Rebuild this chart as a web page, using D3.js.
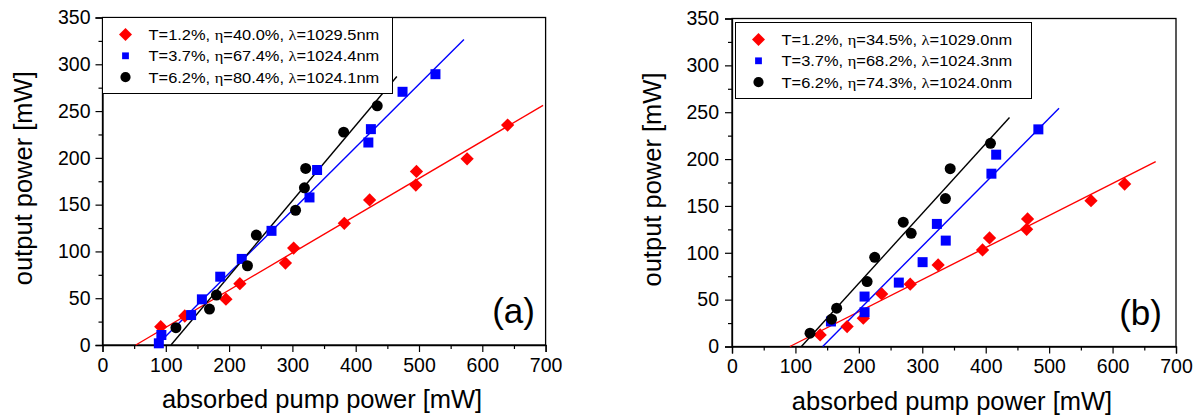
<!DOCTYPE html>
<html>
<head>
<meta charset="utf-8">
<script src="https://cdn.jsdelivr.net/npm/d3@7"></script>
<style>
  body { margin: 0; background: #fff; }
  svg { display: block; font-family: "Liberation Sans", Arial, sans-serif; }
</style>
</head>
<body>
<div id="chart"></div>
<script>
// tick values shared by both panels
var xTicks = [0, 100, 200, 300, 400, 500, 600, 700];
var yTicks = [0, 50, 100, 150, 200, 250, 300, 350];

// panel (a) measured points
var aRedX   = [92, 130, 195, 217, 289, 302, 382, 422, 495, 496, 576, 640];
var aRedY   = [19.6, 31, 49, 65.5, 87.6, 103.6, 130, 155, 171, 185.5, 199, 235];
var aBlueX  = [89, 93, 140, 157, 186, 220, 267, 327, 339, 420, 424, 474, 526];
var aBlueY  = [1.8, 10.7, 32, 48.8, 73, 92, 122, 157.7, 187, 216.4, 230.7, 270.6, 289.4];
var aBlackX = [116, 169, 180, 229, 243, 305, 319, 321, 381, 434];
var aBlackY = [18.5, 38.4, 53.4, 84.7, 117.5, 144, 168, 188.7, 227.5, 255.6];

// panel (b) measured points
var bRedX   = [139, 181.5, 207, 236, 281, 325, 395, 406, 464.5, 466, 566, 619];
var bRedY   = [12.4, 21.3, 30.2, 56.1, 66.5, 87.1, 103, 115.8, 125, 136.1, 155.6, 173.4];
var bBlueX  = [156, 209, 209, 263, 300.5, 323, 337, 409, 416.5, 483];
var bBlueY  = [26.7, 53.3, 36.6, 68.2, 90, 130.8, 113, 184.4, 204.7, 231.7];
var bBlackX = [123, 157, 165, 213, 225, 270, 282.5, 336.5, 344, 407.5];
var bBlackY = [14.2, 29.1, 40.9, 69.3, 95.2, 132.6, 120.8, 157.8, 189.8, 216.8];

// linear fits: threshold (x at y=0), slope, last x of drawn line  [red, blue, black]
var aFitThreshold = [52.6, 86, 108.2];
var aFitSlope     = [0.398, 0.673, 0.804];
var aFitEnd       = [696, 571, 465];
var bFitThreshold = [91.3, 143, 109.4];
var bFitSlope     = [0.342, 0.682, 0.745];
var bFitEnd       = [668, 515.6, 437.5];

// legend entries: T, eta, lambda
var legendT     = ["1.2%", "3.7%", "6.2%"];
var aLegendEta  = ["40.0%", "67.4%", "80.4%"];
var aLegendLam  = ["1029.5nm", "1024.4nm", "1024.1nm"];
var bLegendEta  = ["34.5%", "68.2%", "74.3%"];
var bLegendLam  = ["1029.0nm", "1024.3nm", "1024.0nm"];

var colors  = ["#ff0000", "#0000ff", "#000000"];
// diamond = square turned 45 degrees
var symbols = [d3.symbolSquare, d3.symbolSquare, d3.symbolCircle];
var symRot  = [45, 0, 0];
var symSize = [88, 100, 95];
var legSize = [84, 46, 82];

var W = 1199, H = 419;
var svg = d3.select("#chart").append("svg").attr("width", W).attr("height", H);

function drawPanel(p) {
    var x = d3.scaleLinear().domain([0, 700]).range([p.left, p.right]);
    var y = d3.scaleLinear().domain([0, 350]).range([p.bottom, p.top]);
    var g = svg.append("g");

    // frame (top and right, no ticks)
    g.append("rect")
        .attr("x", p.left).attr("y", p.top)
        .attr("width", p.right - p.left).attr("height", p.bottom - p.top)
        .attr("fill", "none").attr("stroke", "#000").attr("stroke-width", 1.3);

    // minor ticks
    var xMinor = d3.range(50, 700, 100);
    var yMinor = d3.range(25, 350, 50);
    g.append("g")
        .attr("transform", "translate(0," + p.bottom + ")")
        .call(d3.axisBottom(x).tickValues(xMinor).tickSize(4).tickFormat(""))
        .call(function(a){ a.select(".domain").remove(); });
    g.append("g")
        .attr("transform", "translate(" + p.left + ",0)")
        .call(d3.axisLeft(y).tickValues(yMinor).tickSize(4).tickFormat(""))
        .call(function(a){ a.select(".domain").remove(); });

    // major ticks and labels
    var xa = g.append("g")
        .attr("transform", "translate(0," + p.bottom + ")")
        .call(d3.axisBottom(x).tickValues(xTicks).tickSize(7).tickPadding(6).tickFormat(d3.format("d")));
    var ya = g.append("g")
        .attr("transform", "translate(" + p.left + ",0)")
        .call(d3.axisLeft(y).tickValues(yTicks).tickSize(7).tickPadding(p.yPad).tickFormat(d3.format("d")));
    [xa, ya].forEach(function(a){
        a.select(".domain").attr("stroke-width", 1.3);
        a.selectAll(".tick text")
            .attr("font-family", "'Liberation Sans', Arial, sans-serif")
            .attr("font-size", 19.5).attr("fill", "#000");
    });
    g.selectAll(".tick line").attr("stroke", "#000").attr("stroke-width", 1.2);

    // axis titles
    g.append("text")
        .attr("x", (p.left + p.right) / 2 - 2).attr("y", p.bottom + 63)
        .attr("text-anchor", "middle").attr("font-size", 25.5)
        .text("absorbed pump power [mW]");
    g.append("text")
        .attr("transform", "translate(" + p.yTitleX + "," + ((p.top + p.bottom) / 2 - 3) + ") rotate(-90)")
        .attr("text-anchor", "middle").attr("font-size", 25.5)
        .text("output power [mW]");

    // fit lines
    var line = d3.line().x(function(d){ return x(d[0]); }).y(function(d){ return y(d[1]); });
    p.threshold.forEach(function(t, i){
        var pts = [[t, 0], [p.fitEnd[i], p.slope[i] * (p.fitEnd[i] - t)]];
        g.append("path").attr("d", line(pts))
            .attr("fill", "none").attr("stroke", colors[i]).attr("stroke-width", 1.4);
    });

    // markers
    p.xs.forEach(function(xs, i){
        var pts = xs.map(function(v, j){ return [v, p.ys[i][j]]; });
        g.append("g").selectAll("path")
            .data(pts).enter().append("path")
            .attr("transform", function(d){
                return "translate(" + x(d[0]) + "," + y(d[1]) + ") rotate(" + symRot[i] + ")";
            })
            .attr("d", d3.symbol().type(symbols[i]).size(symSize[i]))
            .attr("fill", colors[i]);
    });

    // panel label
    g.append("text")
        .attr("x", p.labelX).attr("y", p.bottom - 22)
        .attr("text-anchor", "end").attr("font-size", 35)
        .text(p.label);

    // legend
    var lg = g.append("g");
    lg.append("rect")
        .attr("x", p.leg[0]).attr("y", p.leg[1])
        .attr("width", p.leg[2]).attr("height", p.leg[3])
        .attr("fill", "#fff").attr("stroke", "#000").attr("stroke-width", 1);
    legendT.forEach(function(t, i){
        var ry = p.leg[1] + 17 + i * 21.3;
        lg.append("path")
            .attr("transform", "translate(" + (p.leg[0] + 23) + "," + ry + ") rotate(" + symRot[i] + ")")
            .attr("d", d3.symbol().type(symbols[i]).size(legSize[i]))
            .attr("fill", colors[i]);
        var tx = lg.append("text")
            .attr("transform", "translate(" + (p.leg[0] + 46) + "," + (ry + 5.5) + ") scale(1.06,1)")
            .attr("font-size", 15.5);
        tx.append("tspan").text("T=" + t + ", ");
        tx.append("tspan").attr("font-family", "'Liberation Serif', serif").text("\u03b7");
        tx.append("tspan").text("=" + p.eta[i] + ", ");
        tx.append("tspan").attr("font-family", "'Liberation Serif', serif").text("\u03bb");
        tx.append("tspan").text("=" + p.lam[i]);
    });
}

drawPanel({
    left: 102.5, right: 545.6, top: 17.5, bottom: 345, yPad: 5, yTitleX: 32,
    xs: [aRedX, aBlueX, aBlackX], ys: [aRedY, aBlueY, aBlackY],
    threshold: aFitThreshold, slope: aFitSlope, fitEnd: aFitEnd,
    eta: aLegendEta, lam: aLegendLam,
    leg: [102.5, 17.5, 290, 76],
    label: "(a)", labelX: 535
});
drawPanel({
    left: 732, right: 1176, top: 18.5, bottom: 346.5, yPad: 6, yTitleX: 661,
    xs: [bRedX, bBlueX, bBlackX], ys: [bRedY, bBlueY, bBlackY],
    threshold: bFitThreshold, slope: bFitSlope, fitEnd: bFitEnd,
    eta: bLegendEta, lam: bLegendLam,
    leg: [735.5, 22.5, 296, 76],
    label: "(b)", labelX: 1162
});
</script>
</body>
</html>
